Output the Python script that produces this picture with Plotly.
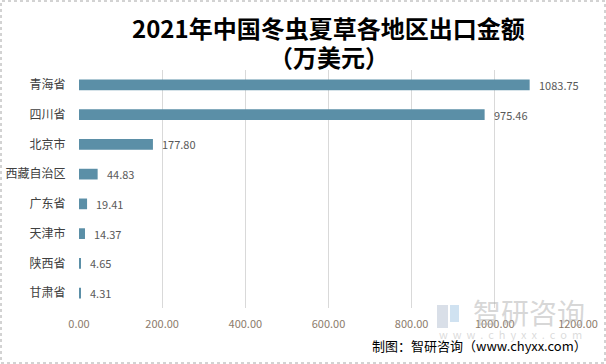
import plotly.graph_objects as go

regions = ["青海省", "四川省", "北京市", "西藏自治区", "广东省", "天津市", "陕西省", "甘肃省"]
values = [1083.75, 975.46, 177.80, 44.83, 19.41, 14.37, 4.65, 4.31]
x_ticks = [0, 200, 400, 600, 800, 1000, 1200]

title_line1 = "2021年中国冬虫夏草各地区出口金额"
title_line2 = "（万美元）"
source = "制图：智研咨询（www.chyxx.com）"

BAR = "#5b8fa7"
FONT = "Noto Sans CJK SC, Microsoft YaHei, sans-serif"

W, H = 606, 364
L, R, T, B = 79, 28, 70, 56
pw = W - L - R
ph = H - T - B


def xpix(p):
    return (p - L) / pw


def ypix(p):
    return (H - B - p) / ph


fig = go.Figure()
fig.add_trace(go.Bar(
    y=regions, x=values, orientation="h",
    marker=dict(color=BAR, line=dict(width=0)),
    width=0.36,
    hoverinfo="skip",
))

annotations = []
for r, v in zip(regions, values):
    annotations.append(dict(
        x=v, y=r, xref="x", yref="y", text=f"{v:.2f}",
        showarrow=False, xanchor="left", xshift=7,
        font=dict(size=11, color="#595959", family=FONT),
    ))

annotations += [
    dict(x=0.5, xref="paper", xanchor="center", y=ypix(28), yref="paper", yanchor="middle",
         text="<b>" + title_line1 + "</b>", showarrow=False,
         font=dict(size=24, color="#000000", family=FONT)),
    dict(x=0.5, xref="paper", xanchor="center", y=ypix(57), yref="paper", yanchor="middle",
         text="<b>" + title_line2 + "</b>", showarrow=False,
         font=dict(size=24, color="#000000", family=FONT)),
    # watermark
    dict(x=xpix(529), xref="paper", xanchor="center", y=ypix(312), yref="paper", yanchor="middle",
         text="智研咨询", showarrow=False,
         font=dict(size=28, color="rgba(175,175,175,0.5)", family=FONT)),
    dict(x=xpix(510), xref="paper", xanchor="center", y=ypix(334), yref="paper", yanchor="middle",
         text="w  w  w  .  c  h  y  x  x  .  c  o  m", showarrow=False,
         font=dict(size=11, color="rgba(190,190,190,0.55)", family=FONT)),
    dict(x=xpix(589), xref="paper", xanchor="right", y=ypix(345), yref="paper", yanchor="middle",
         text=source, showarrow=False,
         font=dict(size=13, color="#000000", family=FONT)),
]

shapes = [
    dict(type="rect", xref="paper", yref="paper",
         x0=xpix(1), x1=xpix(605), y0=ypix(363), y1=ypix(1),
         line=dict(color="#a6a6a6", width=1, dash="dot"), fillcolor="rgba(0,0,0,0)", layer="below"),
    # logo mark of watermark
    dict(type="rect", xref="paper", yref="paper",
         x0=xpix(437), x1=xpix(448), y0=ypix(328), y1=ypix(305),
         line=dict(width=0), fillcolor="rgba(170,185,205,0.45)", layer="above"),
    dict(type="rect", xref="paper", yref="paper",
         x0=xpix(450), x1=xpix(459), y0=ypix(322), y1=ypix(305),
         line=dict(width=0), fillcolor="rgba(150,190,225,0.45)", layer="above"),
]

fig.update_layout(
    width=W, height=H,
    margin=dict(l=L, r=R, t=T, b=B, autoexpand=False),
    paper_bgcolor="white", plot_bgcolor="white",
    showlegend=False,
    annotations=annotations,
    shapes=shapes,
    font=dict(family=FONT),
    xaxis=dict(
        range=[0, 1200], tickvals=x_ticks, tickformat=".2f",
        showgrid=True, gridcolor="#d9d9d9", gridwidth=1,
        zeroline=False, showline=False,
        ticks="outside", ticklen=6, tickcolor="rgba(0,0,0,0)",
        tickfont=dict(size=11, color="#8c7b6b", family=FONT),
        automargin=False, fixedrange=True,
    ),
    yaxis=dict(
        autorange="reversed", showgrid=False, zeroline=False, showline=False,
        ticks="outside", ticklen=10, tickcolor="rgba(0,0,0,0)",
        tickfont=dict(size=12, color="#404040", family=FONT),
        automargin=False, fixedrange=True,
    ),
)

fig.write_html(
    "out.html",
    config={"displayModeBar": False},
    post_script="document.body.style.margin='0';document.body.style.overflow='hidden';",
)
